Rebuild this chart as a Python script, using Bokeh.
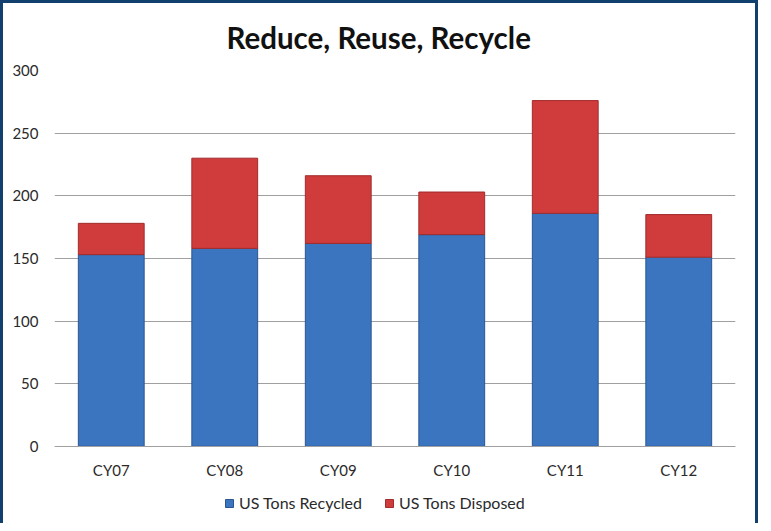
from bokeh.plotting import figure
from bokeh.models import ColumnDataSource, Legend, LegendItem, Range1d, FixedTicker
from bokeh.embed import file_html
from bokeh.resources import INLINE

categories = ["CY07", "CY08", "CY09", "CY10", "CY11", "CY12"]
recycled = [153, 158, 162, 169, 186, 151]
disposed = [25, 72, 54, 34, 90, 34]
y_ticks = [0, 50, 100, 150, 200, 250, 300]

FONT = "Lato"
source = ColumnDataSource(dict(cat=categories, recycled=recycled, disposed=disposed))

p = figure(x_range=categories, y_range=Range1d(-64, 300), width=758, height=523,
           output_backend="svg", toolbar_location=None,
           min_border_left=51, min_border_right=26, min_border_top=67, min_border_bottom=0)
p.styles = {"border-top": "3px solid #12406E", "border-left": "3px solid #12406E",
            "border-right": "3px solid #12406E"}

r = p.vbar_stack(["recycled", "disposed"], x="cat", width=0.58, source=source,
                 color=["#3B75C0", "#D03B3B"], line_color=["#2A5590", "#A02C2C"], line_width=1)

p.title.text = "Reduce, Reuse, Recycle"
p.title.align = "left"
p.title.vertical_align = "middle"
p.title.offset = 172
p.title.standoff = 29
p.title.text_font = FONT
p.title.text_font_size = "29.5px"
p.title.text_font_style = "bold"
p.title.text_color = "#111111"

p.yaxis.ticker = FixedTicker(ticks=y_ticks)
p.yaxis.axis_line_color = None
p.yaxis.major_tick_line_color = None
p.yaxis.minor_tick_line_color = None
p.yaxis.major_tick_out = 0
p.yaxis.major_label_text_font = FONT
p.yaxis.major_label_text_font_size = "15px"
p.yaxis.major_label_text_color = "#2a2a2a"
p.yaxis.major_label_standoff = 16

p.xaxis.fixed_location = 0
p.xaxis.axis_line_color = "#A0A0A0"
p.xaxis.major_tick_line_color = None
p.xaxis.major_tick_out = 0
p.xaxis.major_label_text_font = FONT
p.xaxis.major_label_text_font_size = "15px"
p.xaxis.major_label_text_color = "#2a2a2a"
p.xaxis.major_label_standoff = 15

p.xgrid.grid_line_color = None
p.ygrid.grid_line_color = "#A0A0A0"
p.ygrid.grid_line_width = 1
p.outline_line_color = None
p.x_range.range_padding = 0.0

legend = Legend(items=[LegendItem(label="US Tons Recycled", renderers=[r[0]]),
                       LegendItem(label="US Tons Disposed", renderers=[r[1]])],
                orientation="horizontal", location=(170, 14),
                label_text_font=FONT, label_text_font_size="16px", label_text_color="#2a2a2a",
                label_standoff=5, glyph_width=10, glyph_height=10, spacing=22,
                border_line_color=None, background_fill_alpha=0, padding=4, margin=0)
p.add_layout(legend, "center")

open("out.html", "w").write(file_html(p, INLINE))
